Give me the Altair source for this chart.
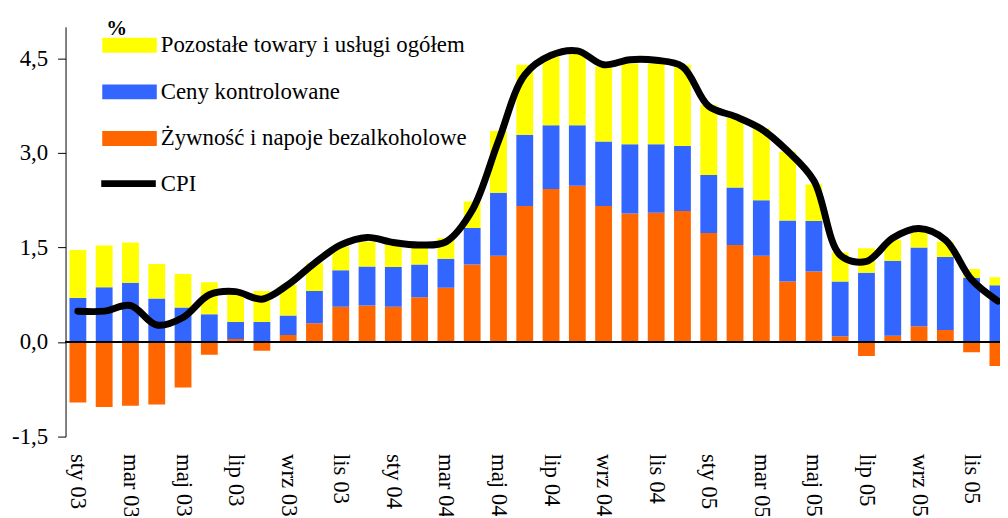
import altair as alt
import pandas as pd

month_names = ["sty", "lut", "mar", "kwi", "maj", "cze", "lip", "sie", "wrz", "paź", "lis", "gru"]
years = ["03", "04", "05"]
months = [f"{m} {y}" for y in years for m in month_names]

food = [-0.96, -1.03, -1.01, -0.99, -0.72, -0.20, 0.05, -0.14, 0.11, 0.30, 0.56, 0.58,
        0.56, 0.71, 0.86, 1.23, 1.37, 2.16, 2.43, 2.48, 2.16, 2.04, 2.05, 2.08,
        1.73, 1.54, 1.37, 0.96, 1.12, 0.09, -0.22, 0.10, 0.25, 0.19, -0.16, -0.38]
controlled = [0.70, 0.87, 0.94, 0.69, 0.55, 0.44, 0.27, 0.32, 0.31, 0.51, 0.58, 0.62,
              0.63, 0.52, 0.46, 0.58, 1.00, 1.13, 1.01, 0.96, 1.02, 1.10, 1.09, 1.03,
              0.92, 0.91, 0.88, 0.97, 0.80, 0.87, 1.10, 1.19, 1.25, 1.16, 1.02, 0.90]
other = [0.76, 0.66, 0.64, 0.55, 0.53, 0.51, 0.47, 0.49, 0.49, 0.44, 0.37, 0.39,
         0.38, 0.31, 0.33, 0.42, 0.98, 1.11, 1.09, 1.14, 1.19, 1.28, 1.28, 1.29,
         1.11, 1.11, 1.14, 1.09, 0.58, 0.46, 0.39, 0.33, 0.28, 0.24, 0.14, 0.13]
cpi = [0.49, 0.49, 0.58, 0.27, 0.39, 0.75, 0.80, 0.68, 0.91, 1.25, 1.54, 1.66,
       1.58, 1.54, 1.59, 2.09, 3.19, 4.24, 4.55, 4.62, 4.40, 4.48, 4.47, 4.37,
       3.74, 3.58, 3.38, 3.03, 2.56, 1.38, 1.28, 1.65, 1.80, 1.62, 0.99, 0.65]

series_names = ["Pozostałe towary i usługi ogółem", "Ceny kontrolowane", "Żywność i napoje bezalkoholowe"]
series_colors = ["#FFFF00", "#3366FF", "#FF6600"]
line_name = "CPI"

rows = []
for i in range(len(months)):
    rows.append({"idx": i, "series": series_names[2], "order": 0, "value": food[i]})
    rows.append({"idx": i, "series": series_names[1], "order": 1, "value": controlled[i]})
    rows.append({"idx": i, "series": series_names[0], "order": 2, "value": other[i]})
bars_df = pd.DataFrame(rows)
line_df = pd.DataFrame({"idx": list(range(len(months))), "cpi": cpi, "name": line_name})

FONT = "Liberation Serif"
FS = 23
month_arr = "[" + ",".join(f"'{m}'" for m in months) + "]"

x_scale = alt.Scale(domain=[-0.47, 35.08], nice=False, zero=False)
y_scale = alt.Scale(domain=[-1.5, 5.0], nice=False, zero=False)

x_axis = alt.Axis(values=list(range(0, 36, 2)), labelExpr=f"{month_arr}[datum.value]",
                  labelAngle=90, domain=False, ticks=False, labelPadding=17,
                  labelOverlap=False, grid=False, title=None, labelFontSize=FS)
y_axis = alt.Axis(values=[-1.5, 0, 1.5, 3.0, 4.5],
                  labelExpr="datum.value < 0 ? '-' + replace(format(-datum.value, '.1f'), '.', ',') : replace(format(datum.value, '.1f'), '.', ',')",
                  tickSize=8, labelPadding=10, grid=False, title="%", titleAngle=0,
                  titleX=51, titleY=8, titleAlign="center", titleBaseline="alphabetic",
                  titleFontWeight="bold", titleFontSize=21, titleFont=FONT, labelFontSize=FS)

bars = alt.Chart(bars_df).transform_calculate(
    x0="datum.idx - 0.32", x1="datum.idx + 0.32"
).transform_stack(
    stack="value", groupby=["idx"], as_=["v0", "v1"], sort=[alt.SortField("order", order="ascending")], offset="zero"
).mark_bar(clip=True).encode(
    x=alt.X("x0:Q", scale=x_scale, axis=x_axis),
    x2="x1:Q",
    y=alt.Y("v0:Q", scale=y_scale, axis=y_axis),
    y2="v1:Q",
    color=alt.Color("series:N", scale=alt.Scale(domain=series_names, range=series_colors),
                    legend=alt.Legend(orient="none", legendX=41, legendY=-5, title=None,
                                      symbolType="M-1.17,-0.32L1.17,-0.32L1.17,0.32L-1.17,0.32Z",
                                      symbolSize=2209, symbolStrokeWidth=0, symbolOpacity=1,
                                      labelOffset=8, labelFontSize=FS, labelFont=FONT,
                                      labelColor="black", labelLimit=600, rowPadding=11,
                                      padding=0, direction="vertical")),
)

zero = alt.Chart(line_df).mark_rule(color="black", strokeWidth=1).encode(
    y=alt.Y(datum=0, scale=y_scale, axis=y_axis)
)

line = alt.Chart(line_df).mark_line(strokeWidth=7, interpolate="catmull-rom", strokeCap="round",
                                    strokeJoin="round", clip=True).encode(
    x=alt.X("idx:Q", scale=x_scale, axis=x_axis),
    y=alt.Y("cpi:Q", scale=y_scale, axis=y_axis),
    stroke=alt.Stroke("name:N", scale=alt.Scale(domain=[line_name], range=["black"]),
                      legend=alt.Legend(orient="none", legendX=35, legendY=129.5, title=None,
                                        symbolType="M-1.1,0L1.1,0", symbolSize=2500,
                                        symbolStrokeWidth=7, symbolStrokeColor="black",
                                        labelOffset=4, labelFontSize=FS, labelFont=FONT,
                                        labelColor="black", labelLimit=600, padding=0)),
)

chart = alt.layer(bars, zero, line).properties(
    width=942, height=413,
    padding={"left": 58, "top": 17, "right": 0, "bottom": 78},
    autosize=alt.AutoSizeParams(type="none"),
).configure_view(stroke=None).configure_axis(
    labelFont=FONT, labelColor="black", domainColor="black", tickColor="black",
    titleColor="black", domainWidth=1, tickWidth=1
)

chart.save("out.html", embed_options={"renderer": "svg", "actions": False})
